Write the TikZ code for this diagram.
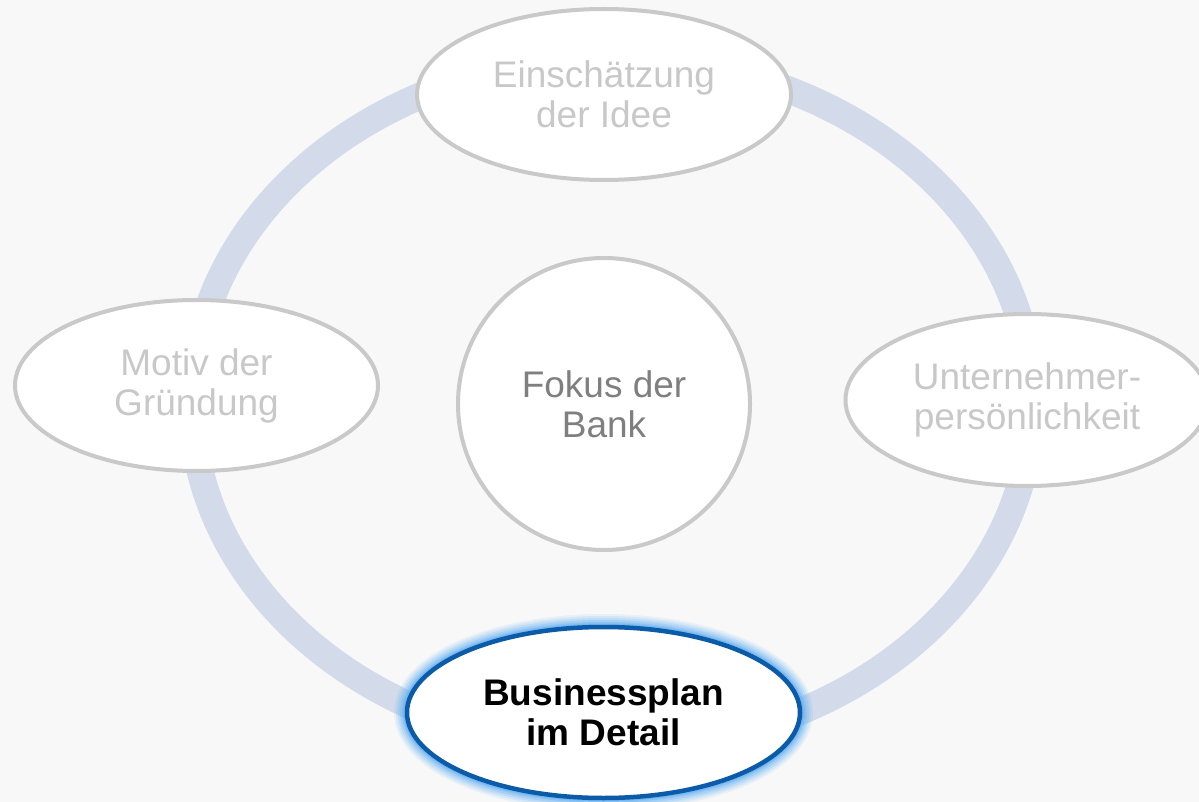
\documentclass[tikz,border=0pt]{standalone}
\usepackage{fontspec}
\setmainfont{Liberation Sans}
\usetikzlibrary{shapes.geometric}
\definecolor{bgc}{HTML}{F8F8F8}
\definecolor{ringc}{HTML}{D3DBEA}
\definecolor{grayline}{HTML}{C9C9C9}
\definecolor{graytext}{HTML}{C8C8C8}
\definecolor{midtext}{HTML}{7F7F7F}
\definecolor{darkblue}{HTML}{0B5BA8}
\definecolor{glowc}{HTML}{5AACF2}
\begin{document}
\begin{tikzpicture}[x=1pt,y=-1pt,
  ring/.style={draw=ringc, line width=27pt},
  outer/.style={ellipse, draw=grayline, line width=4pt, fill=white, inner sep=0pt,
    text=graytext, align=center, font=\fontsize{37pt}{40pt}\selectfont},
  centre/.style={circle, draw=grayline, line width=4pt, fill=white, inner sep=0pt,
    text=midtext, align=center, font=\fontsize{37pt}{40pt}\selectfont},
  active/.style={ellipse, draw=darkblue, line width=4.5pt, fill=white, inner sep=0pt,
    text=black, align=center, font=\fontsize{37pt}{40pt}\selectfont\bfseries}]
\useasboundingbox (0,0) rectangle (1199,802);
\fill[bgc] (0,0) rectangle (1199,802);
\clip (0,0) rectangle (1199,802);
\coordinate (rc) at (612,403);
\draw[ring] (rc) ellipse [x radius=420, y radius=345];
\node[outer, minimum width=374pt, minimum height=171pt] (idee) at (604,94.5) {Einschätzung\\der Idee};
\node[outer, minimum width=363pt, minimum height=171pt] (motiv) at (196.5,385.5) {Motiv der\\Gründung};
\node[outer, minimum width=363pt, minimum height=172pt] (pers) at (1027,400) {Unternehmer-\\persönlichkeit};
\node[centre, minimum size=292pt] (bank) at (604,404) {Fokus der\\Bank};
\coordinate (bc) at (603.5,712.5);
\foreach \w/\o in {26/0.10,22/0.14,18/0.18,14/0.24,10/0.32,7/0.45}{
  \draw[glowc, opacity=\o, line width=\w pt] (bc) ellipse [x radius=196.5, y radius=85.5];
}
\node[active, minimum width=393pt, minimum height=171pt] (plan) at (bc) {Businessplan\\im Detail};
\end{tikzpicture}
\end{document}
